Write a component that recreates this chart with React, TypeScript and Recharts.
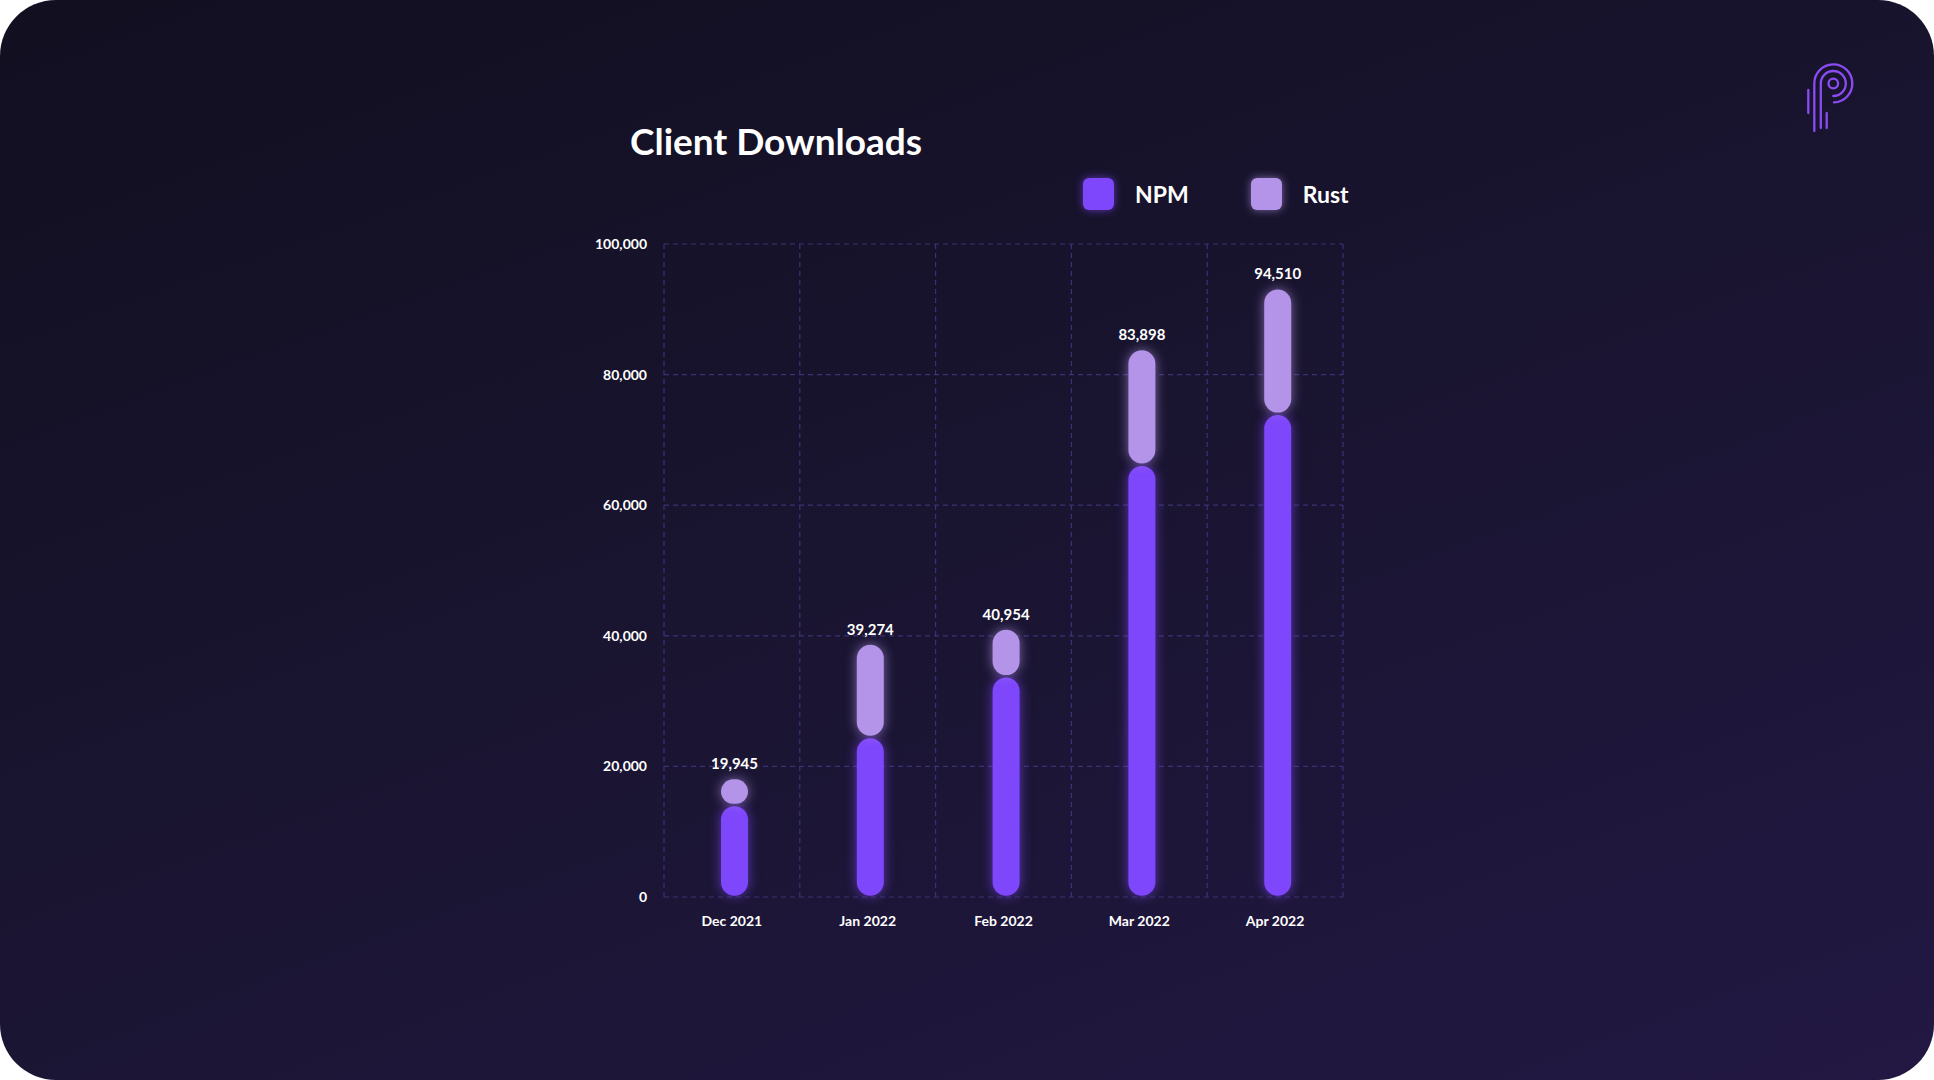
import React from "react";
import { BarChart, Bar, XAxis, YAxis, CartesianGrid, LabelList } from "recharts";

const months = ["Dec 2021", "Jan 2022", "Feb 2022", "Mar 2022", "Apr 2022"];
const npm = [14100, 24500, 33800, 66200, 74000];
const rust = [4100, 14300, 7300, 17700, 19200];
const totalLabels = ["19,945", "39,274", "40,954", "83,898", "94,510"];
const yTicks = [0, 20000, 40000, 60000, 80000, 100000];
const seriesNames = ["NPM", "Rust"];

const NPM_COLOR = "#7f47fb";
const RUST_COLOR = "#b394e8";
const FONT = "Lato, 'Open Sans', sans-serif";

const data = months.map((m, i) => ({
  month: m,
  npm: npm[i],
  rust: rust[i],
  total: totalLabels[i],
}));

const Pill = (color: string) => (props: any) => {
  const { x, y, width, height } = props;
  if (!height || height <= 0) return null;
  const inset = 1.2;
  const h = Math.max(height - inset * 2, 1);
  const r = Math.min(width / 2, h / 2);
  return (
    <rect
      x={x + 3}
      y={y + inset}
      width={width}
      height={h}
      rx={r}
      ry={r}
      fill={color}
      style={{ filter: `drop-shadow(0 0 6px ${color}aa)` }}
    />
  );
};

const TotalLabel = (props: any) => {
  const { x, y, width, value } = props;
  return (
    <text
      x={x + width / 2 + 3}
      y={y - 15}
      textAnchor="middle"
      dominantBaseline="central"
      fill="#ffffff"
      fontFamily={FONT}
      fontWeight={700}
      fontSize={15}
    >
      {value}
    </text>
  );
};

const LegendBox = () => (
  <div
    style={{
      position: "absolute",
      left: 1083,
      top: 178,
      display: "flex",
      alignItems: "center",
      fontFamily: FONT,
    }}
  >
    {seriesNames.map((name, i) => {
      const color = i === 0 ? NPM_COLOR : RUST_COLOR;
      return (
        <div key={name} style={{ display: "flex", alignItems: "center", marginLeft: i === 0 ? 0 : 62 }}>
          <div
            style={{
              width: 31,
              height: 32,
              borderRadius: 6,
              background: color,
              boxShadow: `0 0 9px ${color}aa`,
            }}
          />
          <span style={{ marginLeft: 21, color: "#fff", fontWeight: 700, fontSize: 23 }}>{name}</span>
        </div>
      );
    })}
  </div>
);

const Logo = () => (
  <svg
    width={100}
    height={100}
    viewBox="0 0 100 100"
    style={{ position: "absolute", left: 1780, top: 50 }}
  >
    <g fill="none" stroke="#8a4cf2" strokeWidth={2.3} strokeLinecap="round">
      <path d="M54 52.4 A19 19 0 1 0 34.3 33.5 L34.3 81" />
      <path d="M40.8 78 L40.8 33.5 A12.5 12.5 0 1 1 53.3 46" />
      <circle cx={53.3} cy={33.5} r={4.8} />
      <line x1={28.3} y1={40} x2={28.3} y2={63} />
      <line x1={46.7} y1={63} x2={46.7} y2={78} />
    </g>
  </svg>
);

export default function App() {
  return (
    <div
      style={{
        position: "absolute",
        left: 0,
        top: 0,
        width: 1934,
        height: 1080,
        borderRadius: 56,
        overflow: "hidden",
        background: "linear-gradient(160deg, #110f20 0%, #19142f 45%, #221843 100%)",
      }}
    >
      <div
        style={{
          position: "absolute",
          left: 630,
          top: 118,
          color: "#fff",
          fontFamily: FONT,
          fontWeight: 700,
          fontSize: 37,
        }}
      >
        Client Downloads
      </div>
      <Logo />
      <LegendBox />
      <div style={{ position: "absolute", left: 0, top: 0 }}>
        <BarChart
          width={1934}
          height={1080}
          data={data}
          margin={{ top: 244, right: 591, bottom: 153, left: 604 }}
          barCategoryGap="40%"
        >
          <CartesianGrid
            stroke="#3a3275"
            strokeDasharray="5 4"
            strokeWidth={1.2}
            verticalCoordinatesGenerator={(p: any) => {
              const off = p.offset;
              const arr: number[] = [];
              for (let i = 0; i <= months.length; i++) arr.push(off.left + (off.width * i) / months.length);
              return arr;
            }}
          />
          <XAxis
            dataKey="month"
            axisLine={false}
            tickLine={false}
            tickMargin={13}
            height={30}
            tick={{ fill: "#ffffff", fontFamily: FONT, fontWeight: 700, fontSize: 14 }}
          />
          <YAxis
            domain={[0, 100000]}
            ticks={yTicks}
            axisLine={false}
            tickLine={false}
            width={60}
            tickMargin={11}
            tickFormatter={(v: number) => v.toLocaleString("en-US")}
            tick={{ fill: "#ffffff", fontFamily: FONT, fontWeight: 700, fontSize: 14 }}
          />
          <Bar dataKey="npm" stackId="a" barSize={27} shape={Pill(NPM_COLOR)} isAnimationActive={false} />
          <Bar dataKey="rust" stackId="a" barSize={27} shape={Pill(RUST_COLOR)} isAnimationActive={false}>
            <LabelList dataKey="total" content={<TotalLabel />} />
          </Bar>
        </BarChart>
      </div>
    </div>
  );
}
